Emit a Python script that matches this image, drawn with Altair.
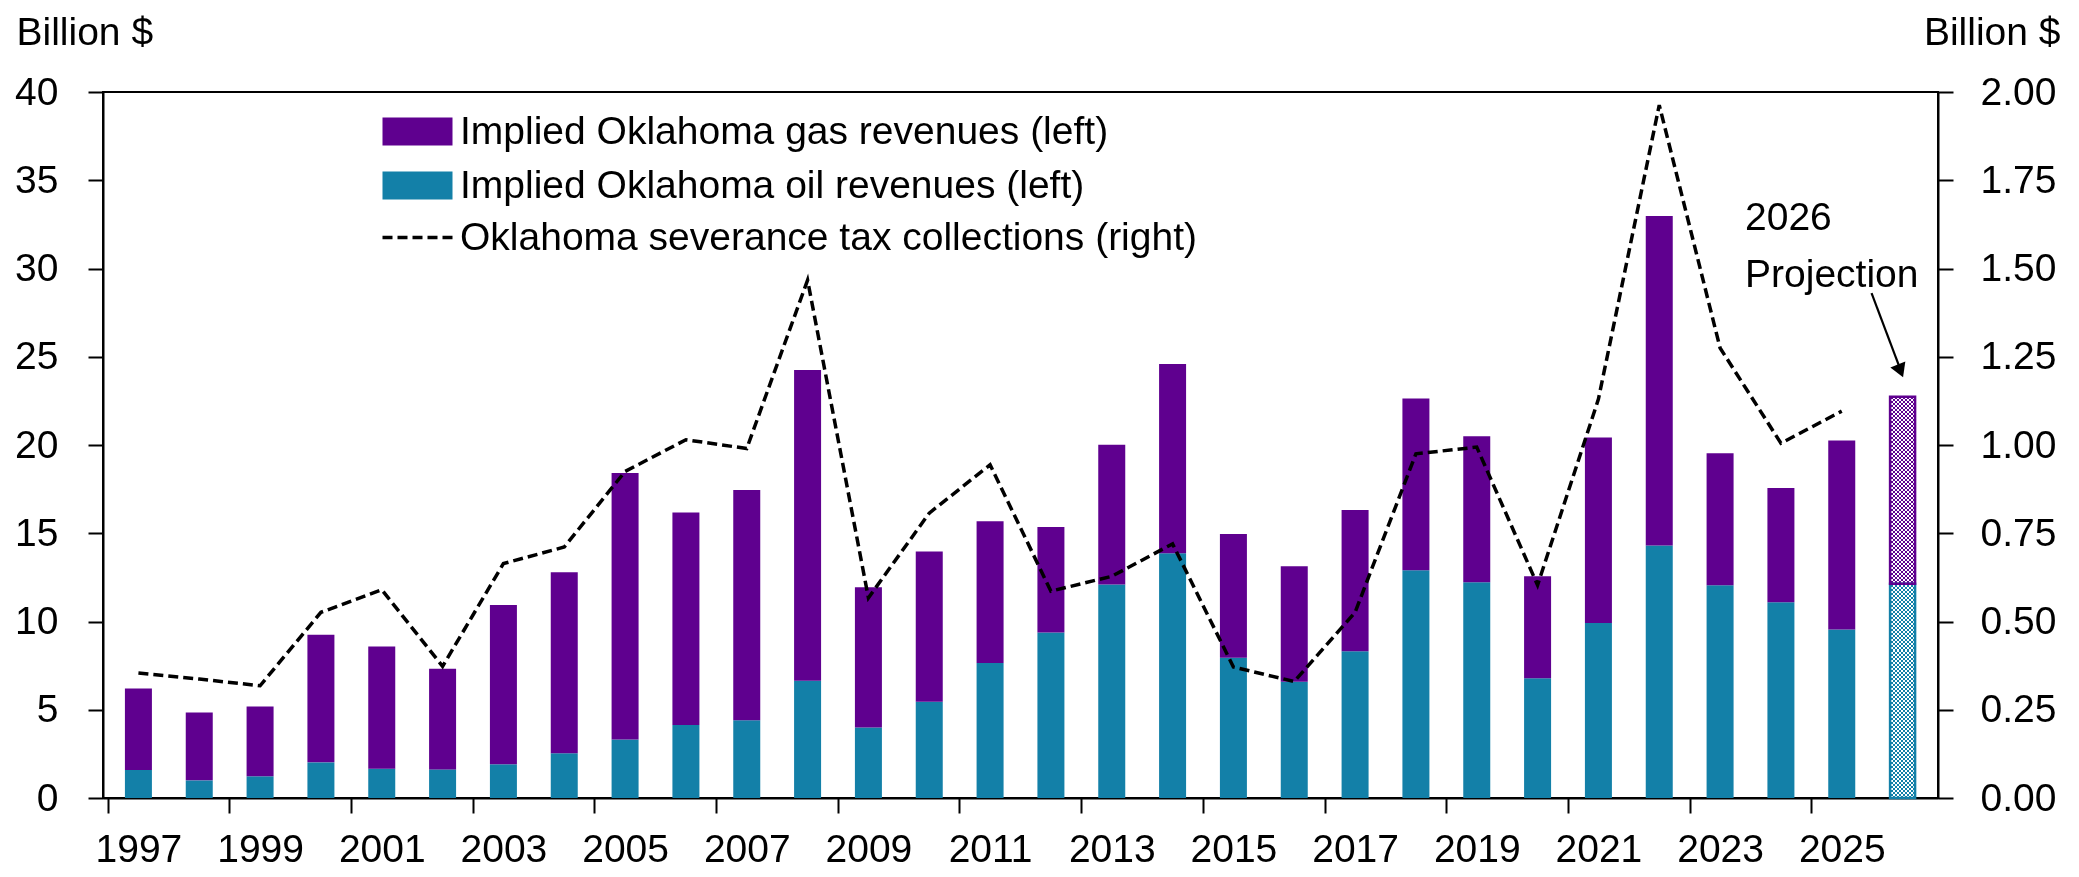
import altair as alt
import pandas as pd

# ---------------- data ----------------
years = list(range(1997, 2027))
oil = [1.59, 1.00, 1.23, 2.02, 1.66, 1.62, 1.91, 2.53, 3.32, 4.14,
       4.40, 6.65, 4.00, 5.46, 7.65, 9.37, 12.09, 13.86, 7.95, 6.59,
       8.31, 12.90, 12.22, 6.78, 9.92, 14.30, 12.05, 11.09, 9.54, 12.14]
gas = [4.62, 3.85, 3.96, 7.23, 6.93, 5.71, 9.02, 10.26, 15.09, 12.03,
       13.05, 17.60, 7.94, 8.50, 8.03, 5.98, 7.93, 10.73, 7.01, 6.54,
       8.01, 9.73, 8.27, 5.78, 10.50, 18.67, 7.48, 6.47, 10.71, 10.60]
tax_years = list(range(1997, 2026))
tax = [0.354, 0.337, 0.318, 0.526, 0.590, 0.373, 0.664, 0.711, 0.925, 1.015,
       0.990, 1.467, 0.567, 0.807, 0.944, 0.586, 0.628, 0.720, 0.371, 0.330,
       0.526, 0.975, 0.994, 0.603, 1.130, 1.963, 1.275, 1.005, 1.096]
proj_year = 2026

GAS = "Implied Oklahoma gas revenues (left)"
OIL = "Implied Oklahoma oil revenues (left)"
TAX = "Oklahoma severance tax collections (right)"
series_names = [GAS, OIL]
series_colors = ["#5f008f", "#1380a8"]

ann_text = ["2026\nProjection"]
ann_x = [2023.41]
ann_y = [32.18]
arrow_x = [2025.49]
arrow_y = [28.61]
arrow_x2 = [2025.94]
arrow_y2 = [24.5]
head_x = [2025.965]
head_y = [24.20]

left_ticks = list(range(0, 41, 5))
right_ticks = [0, 0.25, 0.5, 0.75, 1.0, 1.25, 1.5, 1.75, 2.0]
x_label_years = list(range(1997, 2026, 2))

# ---------------- tables ----------------
rows = []
for yr, o, g in zip(years, oil, gas):
    rows.append(dict(year=yr, series=OIL, lo=0.0, hi=o))
    rows.append(dict(year=yr, series=GAS, lo=o, hi=o + g))
bars = pd.DataFrame(rows)
hist = bars[bars.year != proj_year]
proj = bars[bars.year == proj_year]
proj_total = pd.DataFrame({"year": [proj_year], "lo": [0.0],
                           "hi": [oil[-1] + gas[-1]]})
taxdf = pd.DataFrame({"year": tax_years, "tax": tax, "label": TAX})
ann = pd.DataFrame({"x": ann_x, "y": ann_y, "t": ann_text})
arrow = pd.DataFrame({"x": arrow_x, "y": arrow_y, "x2": arrow_x2, "y2": arrow_y2})
head = pd.DataFrame({"x": head_x, "y": head_y})

# ---------------- styling ----------------
FONT = "Liberation Sans, Arial, sans-serif"
FS = 39
W, H = 1835, 706
half_band = W / 30 / 2

xscale = alt.Scale(domain=[1996.5, 2026.5], nice=False, zero=False)
xaxis = alt.Axis(values=x_label_years, format="d", tickOffset=-half_band,
                 labelOffset=half_band, title=None, labelPadding=17,
                 labelFlush=False, labelOverlap=False)
yscale = alt.Scale(domain=[0, 40], nice=False, zero=True)
yaxis = alt.Axis(values=left_ticks, title="Billion $", titleAngle=0,
                 titleAlign="left", titleBaseline="top", titleX=-87, titleY=-79,
                 labelPadding=30)
rscale = alt.Scale(domain=[0, 2], nice=False, zero=True)
raxis = alt.Axis(orient="right", values=right_ticks, format=".2f",
                 title="Billion $", titleAngle=0, titleAlign="right",
                 titleBaseline="top", titleX=122, titleY=-79, labelPadding=27)

X = alt.X("year:Q", scale=xscale, axis=xaxis)
Ylo = alt.Y("lo:Q", scale=yscale, axis=yaxis)
Y2 = alt.Y2("hi:Q")

fill_scale = alt.Scale(domain=series_names, range=series_colors)
fill_legend = alt.Legend(title=None, orient="none", legendX=274, legendY=20,
                         symbolType="M-1,-1H4V1H-1Z", symbolSize=784,
                         symbolStrokeWidth=0, labelOffset=44, rowPadding=14,
                         padding=0, labelFontSize=FS, labelFont=FONT,
                         labelColor="black", labelLimit=2000)


def stripes(n, vertical_variation):
    stops = []
    for i in range(n):
        c = "#000000" if i % 2 == 0 else "#ffffff"
        stops.append({"offset": i / n, "color": c})
        stops.append({"offset": (i + 1) / n, "color": c})
    g = {"gradient": "linear", "stops": stops, "x1": 0, "y1": 0}
    if vertical_variation:
        g.update({"x2": 0, "y2": 1})
    else:
        g.update({"x2": 1, "y2": 0})
    return g


hist_bars = alt.Chart(hist).mark_bar(size=27).encode(
    x=X, y=Ylo, y2=Y2,
    fill=alt.Fill("series:N", scale=fill_scale, legend=fill_legend),
)

chk1 = alt.Chart(proj_total).mark_bar(size=24, fill=stripes(200, True)).encode(
    x=X, y=Ylo, y2=Y2)
chk2 = alt.Chart(proj_total).mark_bar(size=24, fill=stripes(12, False),
                                      blend="difference").encode(
    x=X, y=Ylo, y2=Y2)
chk3 = alt.Chart(proj).mark_bar(size=24, blend="screen").encode(
    x=X, y=Ylo, y2=Y2,
    fill=alt.Fill("series:N", scale=fill_scale, legend=fill_legend),
)
outline = alt.Chart(proj).mark_bar(size=25, fillOpacity=0, strokeWidth=2.5).encode(
    x=X, y=Ylo, y2=Y2,
    stroke=alt.Stroke("series:N", scale=fill_scale, legend=None),
)

ann_text_layer = alt.Chart(ann).mark_text(
    align="left", baseline="alphabetic", font=FONT, fontSize=FS,
    lineBreak="\n", lineHeight=57, color="black").encode(
    x=alt.X("x:Q", scale=xscale, axis=xaxis),
    y=alt.Y("y:Q", scale=yscale, axis=yaxis),
    text="t:N")
arrow_layer = alt.Chart(arrow).mark_rule(color="black", strokeWidth=2.2).encode(
    x=alt.X("x:Q", scale=xscale, axis=xaxis),
    y=alt.Y("y:Q", scale=yscale, axis=yaxis),
    x2="x2:Q", y2="y2:Q")
head_layer = alt.Chart(head).mark_point(
    shape="triangle-down", size=260, filled=True, color="black", opacity=1,
    angle=338).encode(
    x=alt.X("x:Q", scale=xscale, axis=xaxis),
    y=alt.Y("y:Q", scale=yscale, axis=yaxis))

left = alt.layer(hist_bars, chk1, chk2, chk3, outline,
                 ann_text_layer, arrow_layer, head_layer)

line = alt.Chart(taxdf).mark_line(color="black", strokeWidth=3.5).encode(
    x=X,
    y=alt.Y("tax:Q", scale=rscale, axis=raxis),
    strokeDash=alt.StrokeDash(
        "label:N", scale=alt.Scale(domain=[TAX], range=[[10, 5]]),
        legend=alt.Legend(title=None, orient="none", legendX=274, legendY=126,
                          symbolType="M-1,0H4", symbolSize=784,
                          symbolStrokeWidth=3.5, symbolStrokeColor="black",
                          symbolFillColor="transparent", labelOffset=44,
                          padding=0, labelFontSize=FS, labelFont=FONT,
                          labelColor="black", labelLimit=2000)),
)

chart = alt.layer(left, line).resolve_scale(y="independent").properties(
    width=W, height=H,
    padding={"left": 95, "top": 84, "right": 133, "bottom": 71},
    autosize=alt.AutoSizeParams(type="none"),
).configure_axis(
    labelFont=FONT, labelFontSize=FS, titleFont=FONT, titleFontSize=FS,
    titleFontWeight="normal", labelColor="black", titleColor="black",
    domainColor="black", domainWidth=2, tickColor="black", tickWidth=2,
    tickSize=15, grid=False,
).configure_view(stroke="black", strokeWidth=2)

chart.save("out.html", embed_options={"renderer": "svg", "actions": False})
